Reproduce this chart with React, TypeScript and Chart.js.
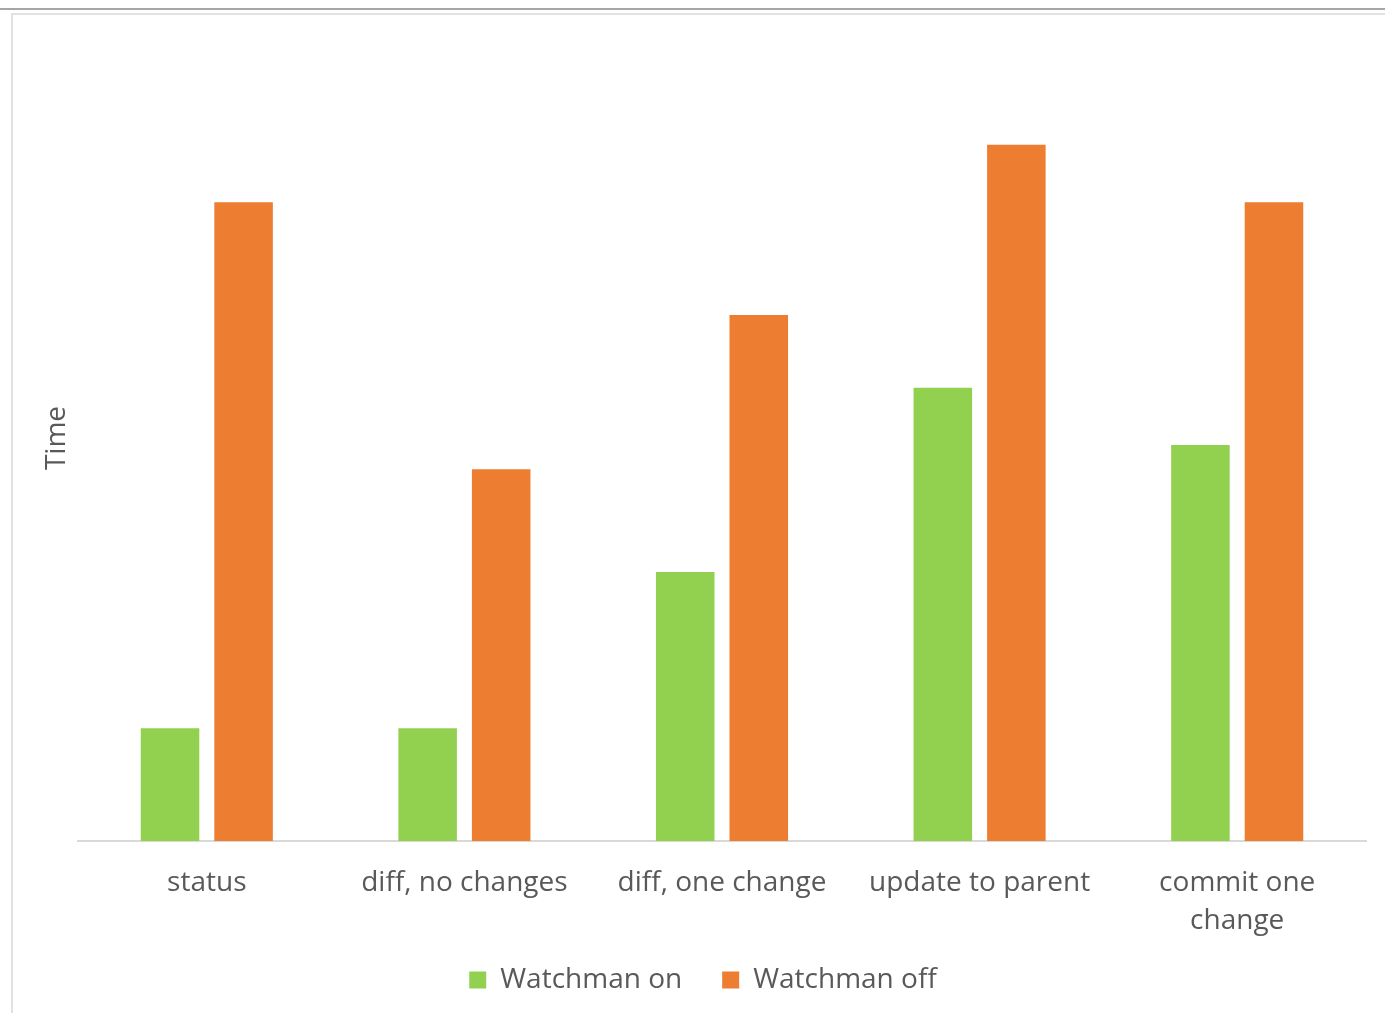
import React, { useEffect, useRef } from "react";
import { Chart, registerables } from "chart.js";

Chart.register(...registerables);

const categories: (string | string[])[] = [
  "status",
  "diff, no changes",
  "diff, one change",
  "update to parent",
  ["commit one", "change"],
];
const watchmanOn = [1.12, 1.12, 2.67, 4.5, 3.93];
const watchmanOff = [6.34, 3.69, 5.22, 6.91, 6.34];
const seriesNames = ["Watchman on", "Watchman off"];
const yAxisTitle = "Time";

const FONT = "'Open Sans', 'Noto Sans', sans-serif";
const TEXT = "#595959";

export default function App() {
  const ref = useRef<HTMLCanvasElement | null>(null);

  useEffect(() => {
    if (!ref.current) return;
    const chart = new Chart(ref.current, {
      type: "bar",
      data: {
        labels: categories,
        datasets: [
          {
            label: seriesNames[0],
            data: watchmanOn,
            backgroundColor: "#92D050",
            borderWidth: 0,
            categoryPercentage: 0.571,
            barPercentage: 0.796,
          },
          {
            label: seriesNames[1],
            data: watchmanOff,
            backgroundColor: "#ED7D31",
            borderWidth: 0,
            categoryPercentage: 0.571,
            barPercentage: 0.796,
          },
        ],
      },
      options: {
        animation: false,
        responsive: false,
        maintainAspectRatio: false,
        layout: { padding: { left: 27, right: 19, top: 19, bottom: 9 } },
        plugins: {
          tooltip: { enabled: false },
          legend: {
            position: "bottom",
            labels: {
              boxWidth: 17,
              boxHeight: 17,
              padding: 40,
              color: TEXT,
              font: { family: FONT, size: 28 },
            },
          },
        },
        scales: {
          x: {
            grid: { display: false, drawTicks: false },
            border: { display: true, color: "#D9D9D9", width: 2 },
            ticks: {
              color: TEXT,
              font: { family: FONT, size: 28, lineHeight: 1.36 },
              padding: 23,
              maxRotation: 0,
              autoSkip: false,
            },
            afterFit: (s: any) => {
              s.height = 85;
              // let the two-line category label extend below the axis box
              s._computeLabelArea = () => undefined;
            },
          },
          y: {
            min: 0,
            max: 8,
            grid: { display: false, drawTicks: false },
            border: { display: false },
            ticks: { display: false },
            title: {
              display: true,
              text: yAxisTitle,
              color: TEXT,
              font: { family: FONT, size: 28 },
              padding: 0,
            },
            afterFit: (s: any) => {
              s.width = 38;
            },
          },
        },
      },
    });
    return () => chart.destroy();
  }, []);

  return (
    <div
      style={{
        position: "fixed",
        left: 0,
        top: 0,
        width: 1385,
        height: 1013,
        background: "#ffffff",
        overflow: "hidden",
      }}
    >
      <div
        style={{
          position: "absolute",
          left: 0,
          top: 8,
          width: 1385,
          height: 2,
          background: "#a6a6a6",
        }}
      />
      <div
        style={{
          position: "absolute",
          left: 11,
          top: 13,
          width: 1400,
          height: 1020,
          border: "2px solid #e2e2e2",
          boxSizing: "border-box",
        }}
      />
      <canvas
        ref={ref}
        width={1372}
        height={997}
        style={{ position: "absolute", left: 13, top: 16, width: 1372, height: 997 }}
      />
    </div>
  );
}
